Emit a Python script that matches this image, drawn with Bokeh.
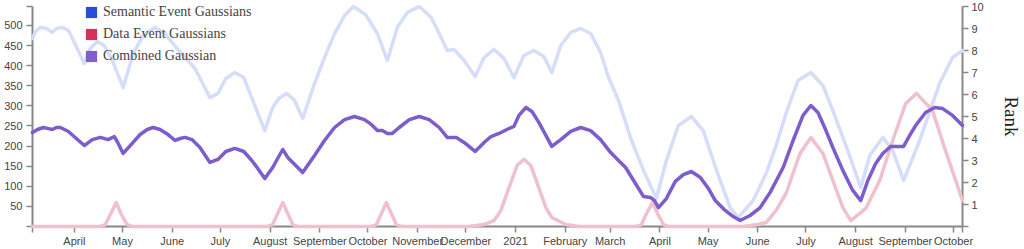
import pandas as pd
from bokeh.plotting import figure
from bokeh.models import Range1d, LinearAxis, FixedTicker, Legend, LegendItem
from bokeh.embed import file_html
from bokeh.resources import INLINE

# ---------------- data ----------------
ORIGIN = "2020-04-01"
x_start_day = -26.1
x_end_day = 553.6

semantic_days = [-26.1, -24.2, -21.1, -17.4, -13.7, -11.2, -7.5, -3.7, -0.6, 6.2, 9.9, 14.3, 18.6, 23.6,
                 30.4, 36.7, 42.9, 50.3, 56.5, 64.0, 75.2, 84.5, 89.5, 94.4, 100.0, 105.6, 113.7, 118.7,
                 123.6, 127.4, 132.3, 137.3, 142.3, 149.7, 155.9, 162.2, 168.4, 174.0, 181.4, 188.9,
                 195.1, 201.3, 207.5, 215.0, 222.4, 228.6, 232.4, 236.7, 242.9, 249.8, 255.4, 261.6,
                 267.8, 274.0, 280.2, 286.4, 292.6, 297.6, 303.2, 309.4, 315.6, 321.8, 328.0, 333.0,
                 339.2, 347.3, 354.8, 362.8, 369.0, 376.5, 384.6, 392.0, 401.4, 408.8, 413.8, 423.1,
                 431.2, 437.4, 443.6, 451.1, 459.1, 466.6, 472.8, 482.1, 490.2, 495.8, 503.9, 510.1,
                 516.9, 526.9, 539.3, 547.4, 553.6]
semantic_rank = [8.55, 8.86, 9.05, 9.0, 8.82, 9.0, 9.05, 8.91, 8.45, 7.41, 8.09, 8.41, 8.23, 7.55,
                 6.32, 7.86, 8.68, 9.05, 8.77, 8.09, 7.18, 5.86, 6.05, 6.73, 7.0, 6.77, 5.27, 4.36,
                 5.41, 5.82, 6.05, 5.73, 4.91, 6.5, 7.68, 8.77, 9.59, 10.0, 9.64, 8.77,
                 7.55, 9.05, 9.73, 10.0, 9.5, 8.59, 8.0, 8.05, 7.55, 6.82, 7.68, 8.05,
                 7.64, 6.77, 7.77, 8.0, 7.73, 7.0, 8.23, 8.82, 9.0, 8.77, 7.91, 6.77,
                 5.73, 3.91, 2.55, 1.27, 3.0, 4.59, 5.0, 4.36, 2.32, 0.86, 0.41, 1.18,
                 2.41, 3.68, 5.14, 6.64, 7.0, 6.41, 5.27, 3.45, 1.77, 3.23, 4.05, 3.45,
                 2.09, 3.91, 6.5, 7.68, 8.0]

data_days = [-26.1, 16.2, 19.3, 22.4, 26.1, 29.2, 32.9, 36.0, 120.5, 123.6, 126.7, 129.9, 133.0,
             136.1, 139.2, 185.1, 188.3, 191.4, 194.5, 197.6, 200.7, 203.8, 246.0, 255.4, 261.6,
             265.9, 270.9, 275.9, 280.2, 284.5, 289.5, 293.9, 297.6, 306.3, 314.4, 350.4, 353.5,
             356.6, 360.4, 363.5, 367.2, 370.3, 416.9, 426.2, 431.2, 437.4, 443.6, 452.3, 459.1,
             466.6, 472.8, 479.0, 484.0, 493.3, 502.0, 510.1, 518.2, 525.0, 534.9, 543.0, 553.6]
data_rank = [0, 0, 0.09, 0.55, 1.09, 0.55, 0.09, 0, 0, 0.09, 0.59, 1.09, 0.59,
             0.09, 0, 0, 0.09, 0.59, 1.09, 0.59, 0.09, 0, 0, 0.09, 0.27,
             0.73, 1.77, 2.77, 3.05, 2.77, 1.77, 0.86, 0.41, 0.09, 0, 0, 0.09,
             0.59, 1.09, 0.59, 0.09, 0, 0, 0.09, 0.18, 0.73, 1.5, 3.32, 4.05,
             3.32, 2.09, 0.86, 0.27, 0.82, 2.09, 3.91, 5.59, 6.05, 5.27, 3.45, 1.18]

combined_days = [-26.1, -23.0, -19.3, -16.2, -13.7, -11.2, -8.7, -3.7, 1.2, 6.2, 11.2, 16.2, 21.1,
                 24.9, 26.7, 30.4, 34.8, 41.0, 45.4, 49.1, 53.4, 58.4, 62.8, 65.9, 69.0, 73.3, 78.3,
                 84.5, 89.5, 94.4, 100.0, 105.6, 110.6, 114.3, 118.7, 123.6, 126.7, 129.9, 133.0,
                 136.1, 142.3, 149.7, 155.9, 162.2, 168.4, 174.6, 180.8, 185.1, 188.9, 192.0, 195.1,
                 198.2, 202.5, 208.8, 215.0, 221.2, 227.4, 232.4, 238.0, 242.9, 249.8, 255.4, 259.7,
                 264.7, 269.6, 274.0, 277.1, 281.5, 285.2, 289.5, 293.9, 297.6, 303.2, 309.4, 315.6,
                 321.8, 328.0, 334.3, 339.2, 343.6, 348.6, 354.8, 359.1, 361.6, 364.1, 369.0, 374.6,
                 379.6, 384.6, 390.2, 395.2, 399.5, 405.7, 410.7, 415.0, 421.2, 427.5, 433.7, 441.8,
                 448.0, 454.2, 459.1, 463.5, 468.5, 472.8, 479.0, 485.2, 490.2, 494.6, 499.5, 503.9,
                 508.9, 513.2, 516.9, 520.7, 524.4, 530.6, 536.2, 541.2, 547.4, 553.6]
combined_rank = [4.27, 4.41, 4.5, 4.45, 4.41, 4.5, 4.5, 4.32, 4.0, 3.68, 3.95, 4.05, 3.95,
                 4.09, 3.86, 3.32, 3.68, 4.18, 4.41, 4.5, 4.41, 4.18, 3.91, 4.0, 4.05, 3.95, 3.59,
                 2.91, 3.05, 3.41, 3.55, 3.41, 3.0, 2.64, 2.18, 2.68, 3.09, 3.5, 3.14,
                 2.91, 2.45, 3.23, 3.91, 4.5, 4.86, 5.0, 4.86, 4.64, 4.36, 4.36, 4.23,
                 4.23, 4.5, 4.86, 5.0, 4.86, 4.5, 4.05, 4.05, 3.82, 3.41, 3.82, 4.09,
                 4.23, 4.41, 4.55, 5.05, 5.41, 5.23, 4.73, 4.14, 3.64, 3.95, 4.32, 4.5,
                 4.36, 3.95, 3.36, 3.0, 2.68, 2.09, 1.36, 1.32, 1.18, 0.86, 1.27, 2.05,
                 2.36, 2.5, 2.23, 1.73, 1.18, 0.73, 0.45, 0.27, 0.5, 0.86, 1.55, 2.68,
                 3.91, 5.05, 5.5, 5.18, 4.36, 3.59, 2.55, 1.64, 1.18, 2.09, 2.86, 3.32,
                 3.64, 3.64, 3.64, 4.14, 4.59, 5.18, 5.41, 5.36, 5.05, 4.59]

legend_names = ["Semantic Event Gaussians", "Data Event Gaussians", "Combined Gaussian"]

month_ticks = ["2020-04-01", "2020-05-01", "2020-06-01", "2020-07-01", "2020-08-01", "2020-09-01",
               "2020-10-01", "2020-11-01", "2020-12-01", "2021-01-01", "2021-02-01", "2021-03-01",
               "2021-04-01", "2021-05-01", "2021-06-01", "2021-07-01", "2021-08-01", "2021-09-01",
               "2021-10-01"]
month_labels = ["April", "May", "June", "July", "August", "September", "October", "November",
                "December", "2021", "February", "March", "April", "May", "June", "July", "August",
                "September", "October"]
left_max = 547
left_ticks = [50, 100, 150, 200, 250, 300, 350, 400, 450, 500]
rank_max = 10
rank_ticks = [1, 2, 3, 4, 5, 6, 7, 8, 9, 10]
axis_title_right = "Rank"

# ---------------- helpers ----------------
origin = pd.Timestamp(ORIGIN)
epoch = pd.Timestamp("1970-01-01")


def to_dates(days):
    return [origin + pd.Timedelta(days=d) for d in days]


def to_ms(ts):
    return int((pd.Timestamp(ts) - epoch).total_seconds() * 1000)


x_start = origin + pd.Timedelta(days=x_start_day)
x_end = origin + pd.Timedelta(days=x_end_day)

SEM_LEG, DAT_LEG, COM_LEG = "#2a4dd8", "#d1315b", "#8060cc"
SEM_LINE, DAT_LINE, COM_LINE = "#d6ddf8", "#efc1cc", "#7d5ccc"
AXIS_COL = "#888888"
TICK_TXT = "#444444"
SANS = "Liberation Sans"
SERIF = "Liberation Serif"

p = figure(width=1024, height=249, x_axis_type="datetime",
           x_range=Range1d(x_start, x_end), y_range=Range1d(0, left_max),
           output_backend="svg", toolbar_location=None,
           min_border_left=32, min_border_right=59, min_border_top=6, min_border_bottom=23)
p.outline_line_color = None
p.xgrid.visible = False
p.ygrid.visible = False
p.background_fill_color = "white"
p.border_fill_color = "white"

p.extra_y_ranges = {"rank": Range1d(0, rank_max)}


def style_axis(ax):
    ax.axis_line_color = AXIS_COL
    ax.axis_line_width = 2
    ax.major_tick_line_color = AXIS_COL
    ax.major_tick_line_width = 1.5
    ax.major_tick_out = 6
    ax.major_tick_in = 0
    ax.minor_tick_line_color = None
    ax.major_label_text_font = SANS
    ax.major_label_text_font_size = "11px"
    ax.major_label_text_color = TICK_TXT


# bottom axis
xa = p.xaxis[0]
x_tick_vals = [to_ms(x_start)] + [to_ms(m) for m in month_ticks] + [to_ms(x_end)]
xa.ticker = FixedTicker(ticks=x_tick_vals)
overrides = {to_ms(m): lab for m, lab in zip(month_ticks, month_labels)}
overrides[to_ms(x_start)] = ""
overrides[to_ms(x_end)] = ""
xa.major_label_overrides = overrides
style_axis(xa)
xa.major_label_standoff = 2

# left axis
ya = p.yaxis[0]
ya.ticker = FixedTicker(ticks=[0] + left_ticks + [left_max])
ya.major_label_overrides = {0: "", left_max: ""}
style_axis(ya)
ya.major_label_standoff = 4

# right axis
ra = LinearAxis(y_range_name="rank", ticker=FixedTicker(ticks=[0] + rank_ticks),
                major_label_overrides={0: ""}, axis_label=axis_title_right)
style_axis(ra)
ra.major_label_standoff = 3
ra.axis_label_text_font = SERIF
ra.axis_label_text_font_size = "19px"
ra.axis_label_text_font_style = "normal"
ra.axis_label_text_color = "#222222"
ra.axis_label_standoff = 14
p.add_layout(ra, "right")

# lines (drawn above the axis lines, as in the reference)
for days, vals, col in [(semantic_days, semantic_rank, SEM_LINE),
                        (data_days, data_rank, DAT_LINE),
                        (combined_days, combined_rank, COM_LINE)]:
    p.line(to_dates(days), vals, y_range_name="rank", line_color=col,
           line_width=3.5, line_join="round", line_cap="round", level="overlay")

# legend (square swatches via zero-size quads)
items = []
for name, col in zip(legend_names, [SEM_LEG, DAT_LEG, COM_LEG]):
    r = p.quad(left=[x_start], right=[x_start], top=[0], bottom=[0],
               fill_color=col, line_color=None)
    items.append(LegendItem(label=name, renderers=[r]))

legend = Legend(items=items, location=(52, 162), orientation="vertical",
                glyph_width=14, glyph_height=14, label_height=14, label_width=10,
                spacing=6, padding=0, margin=0, label_standoff=5,
                label_text_font=SERIF, label_text_font_size="14px",
                label_text_color="#444444",
                background_fill_alpha=0, border_line_alpha=0)
p.add_layout(legend)

open("out.html", "w").write(file_html(p, INLINE))
